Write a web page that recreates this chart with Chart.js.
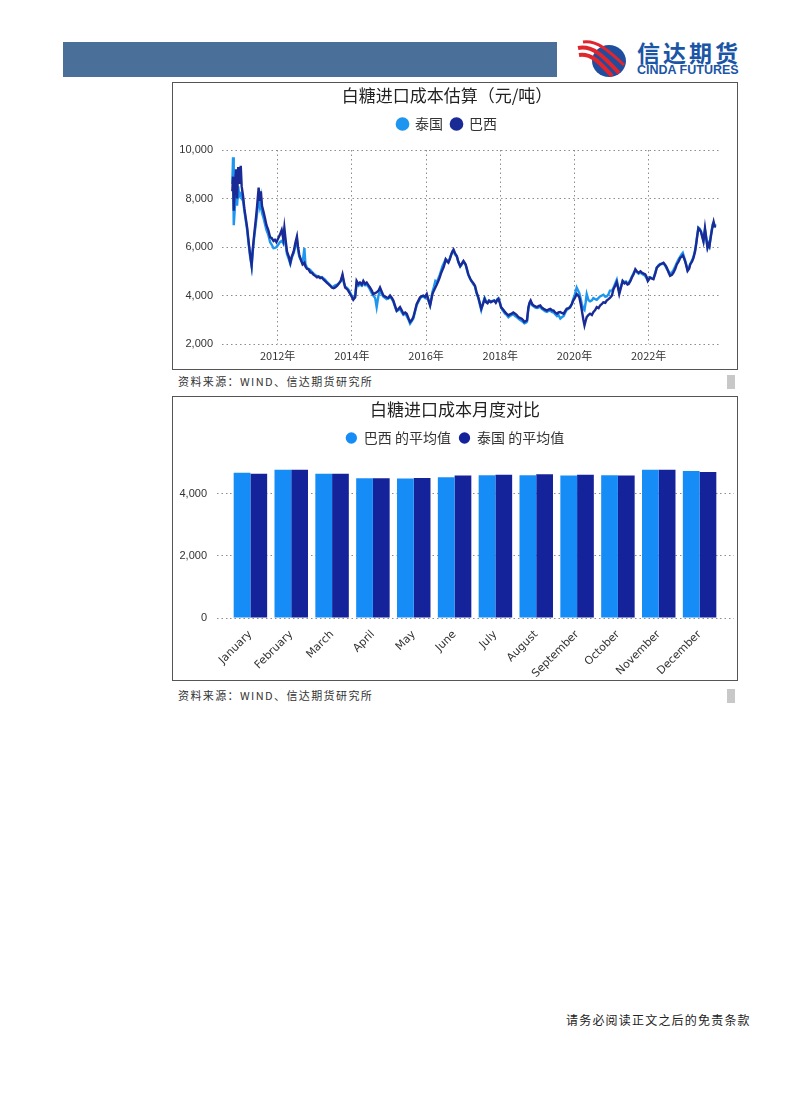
<!DOCTYPE html>
<html lang="zh-CN">
<head>
<meta charset="utf-8">
<title>白糖进口成本</title>
<script src="https://cdn.jsdelivr.net/npm/chart.js@4.4.1/dist/chart.umd.min.js"></script>
<style>
  html, body { margin: 0; padding: 0; background: #fff; }
  body { width: 802px; height: 1114px; position: relative; overflow: hidden; font-family: "Noto Sans CJK SC", sans-serif; }
  .topbar { position: absolute; left: 63px; top: 42px; width: 494px; height: 35px; background: #4a6f98; }
  .emblem { position: absolute; left: 577px; top: 40px; }
  .logo-cn { position: absolute; left: 637px; top: 39px; font-size: 23px; font-weight: 700; color: #1b55a6; letter-spacing: 3px; line-height: 27px; }
  .logo-en { position: absolute; left: 637px; top: 64px; font: 700 12.5px "Liberation Sans", Arial, sans-serif; color: #1b55a6; line-height: 12px; }
  .box { position: absolute; left: 172px; width: 564px; border: 1px solid #555; }
  .box canvas { display: block; }
  #box1 { top: 82px; height: 286px; }
  #box2 { top: 396px; height: 283px; }
  .source { position: absolute; left: 178px; font-size: 11px; color: #333; letter-spacing: 1.4px; line-height: 16px; }
  .mark { position: absolute; left: 727px; width: 8px; height: 14px; background: #c8c8c8; }
  .footer { position: absolute; left: 566px; top: 1012px; font-size: 12px; color: #222; letter-spacing: 1.2px; line-height: 16px; }
</style>
</head>
<body>
<div class="topbar"></div>
<svg class="emblem" width="52" height="40" viewBox="0 0 52 40">
  <ellipse cx="32" cy="21" rx="17" ry="16" fill="#1f4e9f"/>
  <path d="M1 8 C 16 5, 27 17, 42 33" stroke="#e0252c" stroke-width="4" fill="none"/>
  <path d="M2 15 C 15 13, 24 24, 35 36" stroke="#e0252c" stroke-width="4" fill="none"/>
  <path d="M6 2 C 20 0, 32 11, 47 25" stroke="#e0252c" stroke-width="3" fill="none"/>
</svg>
<div class="logo-cn">信达期货</div>
<div class="logo-en">CINDA FUTURES</div>

<div class="box" id="box1"><canvas id="costChart" width="564" height="286"></canvas></div>
<div class="source" style="top:373px">资料来源：WIND、信达期货研究所</div>
<div class="mark" style="top:375px"></div>

<div class="box" id="box2"><canvas id="monthChart" width="564" height="283"></canvas></div>
<div class="source" style="top:687px">资料来源：WIND、信达期货研究所</div>
<div class="mark" style="top:689px"></div>

<div class="footer">请务必阅读正文之后的免责条款</div>

<script>
// 进口成本（元/吨），按日期
const costDates = [
  "2010-10-12","2010-10-19","2010-10-26","2010-11-06","2010-11-17","2010-11-28","2010-12-09","2010-12-20",
  "2011-01-03","2011-01-12","2011-01-26","2011-02-07","2011-02-21","2011-03-07","2011-03-22","2011-04-05","2011-04-20","2011-05-01","2011-05-15","2011-05-30","2011-06-13","2011-06-28","2011-07-09","2011-07-20","2011-07-31","2011-08-15","2011-08-29","2011-09-13","2011-10-01","2011-10-19","2011-11-03","2011-11-21","2011-12-05","2011-12-20",
  "2012-01-08","2012-01-23","2012-02-10","2012-02-25","2012-03-07","2012-03-22","2012-04-02","2012-04-20","2012-05-05","2012-05-19","2012-06-07","2012-06-25","2012-07-09","2012-07-20","2012-08-01","2012-08-19","2012-09-03","2012-09-21","2012-10-01","2012-10-16","2012-10-31","2012-11-18","2012-12-03","2012-12-21",
  "2013-01-05","2013-01-23","2013-02-06","2013-02-24","2013-03-11","2013-03-29","2013-04-13","2013-05-01","2013-05-16","2013-06-03","2013-06-18","2013-07-06","2013-07-20","2013-08-08","2013-08-23","2013-09-13","2013-10-01","2013-10-16","2013-10-27","2013-11-18","2013-12-06","2013-12-24",
  "2014-01-15","2014-02-03","2014-02-17","2014-03-07","2014-03-22","2014-04-09","2014-04-24","2014-05-12","2014-05-27","2014-06-14","2014-06-28","2014-07-16","2014-07-31","2014-08-18","2014-09-02","2014-09-20","2014-10-05","2014-10-23","2014-11-07","2014-11-25","2014-12-09","2014-12-27",
  "2015-01-12","2015-01-30","2015-02-13","2015-03-04","2015-03-18","2015-04-05","2015-04-20","2015-05-08","2015-05-23","2015-06-10","2015-06-25","2015-07-13","2015-07-28","2015-08-15","2015-08-29","2015-09-16","2015-10-01","2015-10-19","2015-11-03","2015-11-21","2015-12-05","2015-12-23",
  "2016-01-08","2016-01-26","2016-02-10","2016-02-21","2016-03-04","2016-03-18","2016-04-02","2016-04-16","2016-05-01","2016-05-15","2016-05-30","2016-06-10","2016-06-21","2016-07-02","2016-07-13","2016-07-27","2016-08-08","2016-08-23","2016-09-06","2016-09-17","2016-09-28","2016-10-12","2016-10-31","2016-11-14","2016-12-03","2016-12-17",
  "2017-01-04","2017-01-15","2017-01-26","2017-02-10","2017-02-21","2017-03-11","2017-03-25","2017-04-13","2017-04-27","2017-05-12","2017-05-30","2017-06-13","2017-06-28","2017-07-16","2017-07-31","2017-08-15","2017-08-29","2017-09-13","2017-10-01","2017-10-16","2017-11-03","2017-11-18","2017-12-03","2017-12-14","2017-12-28",
  "2018-01-08","2018-01-23","2018-02-06","2018-02-17","2018-03-04","2018-03-22","2018-04-06","2018-04-24","2018-05-09","2018-05-27","2018-06-10","2018-06-28","2018-07-13","2018-07-31","2018-08-15","2018-08-26","2018-09-10","2018-09-21","2018-10-05","2018-10-16","2018-10-27","2018-11-11","2018-11-25","2018-12-13","2018-12-28",
  "2019-01-12","2019-01-30","2019-02-14","2019-03-04","2019-03-18","2019-04-05","2019-04-20","2019-05-08","2019-05-23","2019-06-10","2019-06-25","2019-07-13","2019-07-27","2019-08-15","2019-08-29","2019-09-16","2019-10-01","2019-10-16","2019-11-03","2019-11-18","2019-12-06","2019-12-20",
  "2020-01-05","2020-01-23","2020-02-07","2020-02-18","2020-03-03","2020-03-14","2020-03-29","2020-04-09","2020-04-20","2020-05-01","2020-05-19","2020-06-03","2020-06-21","2020-07-05","2020-07-23","2020-08-08","2020-08-26","2020-09-10","2020-09-28","2020-10-12","2020-10-31","2020-11-14","2020-12-02","2020-12-16",
  "2021-01-05","2021-01-19","2021-02-06","2021-02-21","2021-03-07","2021-03-18","2021-04-05","2021-04-20","2021-05-08","2021-05-23","2021-06-07","2021-06-18","2021-07-06","2021-07-20","2021-08-08","2021-08-23","2021-09-10","2021-09-24","2021-10-12","2021-10-27","2021-11-14","2021-11-29","2021-12-13","2021-12-24",
  "2022-01-15","2022-01-30","2022-02-17","2022-03-07","2022-03-22","2022-04-09","2022-04-24","2022-05-12","2022-05-27","2022-06-14","2022-06-28","2022-07-16","2022-07-31","2022-08-18","2022-09-02","2022-09-20","2022-10-05","2022-10-23","2022-11-07","2022-11-22","2022-12-03","2022-12-14","2022-12-25",
  "2023-01-08","2023-01-19","2023-02-03","2023-02-14","2023-03-04","2023-03-18","2023-04-02","2023-04-13","2023-04-24","2023-05-05","2023-05-19","2023-05-30","2023-06-13","2023-06-24","2023-07-09","2023-07-23","2023-08-03","2023-08-14","2023-08-22","2023-09-02","2023-09-13","2023-09-24","2023-10-02","2023-10-12","2023-10-27"
];

const brazilCost = [
  8300,8900,7500,8400,9200,8000,9300,8600,
  9350,8500,8100,7600,7200,6800,6200,5700,5250,5900,6500,7100,7700,8450,7900,8300,7700,7450,7200,6900,6700,6400,6370,6250,6300,6200,
  6370,6500,6700,6350,6800,6200,5820,5600,5350,5600,5820,6200,6430,6000,5690,5450,5280,5350,5200,5100,5080,4950,4940,4850,
  4810,4750,4780,4720,4740,4650,4600,4520,4470,4400,4330,4300,4330,4400,4470,4600,4870,4550,4330,4250,4130,4000,
  3820,3925,4600,4470,4535,4450,4600,4480,4535,4420,4330,4200,4060,4100,4130,4200,4330,4150,4000,3950,3925,3900,
  4000,3900,3790,3550,3380,3450,3520,3380,3250,3300,3250,3050,2910,3000,3110,3400,3650,3800,3925,3980,4000,3950,
  4060,3800,3590,3800,4060,4200,4330,4450,4600,4750,4940,5050,5150,5300,5485,5400,5350,5500,5690,5800,5890,5750,5620,5400,5210,5300,
  5420,5350,5280,5050,4870,4700,4600,4500,4400,4150,3925,3700,3450,3650,3860,3720,3680,3780,3720,3760,3790,3700,3820,3860,3700,
  3520,3450,3380,3315,3250,3180,3220,3250,3300,3250,3200,3110,3080,3045,2980,2910,2950,2980,3520,3700,3790,3650,3590,3550,3520,
  3560,3590,3500,3450,3420,3380,3420,3450,3400,3380,3300,3250,3300,3315,3280,3250,3350,3450,3480,3520,3650,3790,
  3900,4060,4000,3925,3650,3380,3000,2770,2950,3110,3200,3250,3200,3315,3400,3520,3480,3590,3650,3720,3700,3790,3850,3900,
  4000,4250,4400,4550,4300,4060,4350,4600,4500,4535,4450,4470,4600,4740,4900,5080,4980,4940,5000,4940,4900,4870,4750,4600,
  4740,4700,4670,4900,5150,5220,5280,5320,5350,5250,5150,4950,4810,4850,4940,5100,5280,5400,5550,5600,5650,5550,5420,
  5200,5010,5100,5280,5400,5550,5800,6100,6450,6770,6700,6640,6400,6230,6770,6300,5960,6100,6030,6350,6640,6900,7040,6850,6840
];

const thaiCost = [
  8600,9700,6900,7600,8300,7700,8500,8100,
  8200,8000,7900,7500,7100,6700,6100,5600,5200,5800,6400,6900,7400,8000,7700,8000,7400,7200,6950,6700,6500,6200,6100,5950,5960,6000,
  6100,6200,6250,6150,6500,6050,5700,5500,5300,5550,5750,6050,6300,5900,5600,5450,5350,5960,5300,5150,5100,5050,4980,4900,
  4850,4800,4800,4750,4760,4700,4650,4560,4500,4420,4350,4380,4420,4450,4500,4580,4800,4500,4380,4300,4200,4050,
  3900,4000,4500,4400,4450,4400,4500,4420,4450,4350,4250,4100,4000,3900,3520,4000,4200,4050,3950,3900,3850,3880,
  3950,3850,3750,3500,3350,3400,3450,3300,3200,3250,3150,3000,2840,2950,3050,3350,3600,3750,3880,3950,3960,3900,
  4000,3780,3600,3850,4150,4350,4600,4550,4700,4850,5050,5200,5300,5400,5500,5450,5400,5550,5700,5820,5850,5700,5600,5380,5200,5280,
  5400,5330,5250,5000,4850,4680,4580,4450,4380,4100,3900,3650,3400,3700,3900,3750,3720,3800,3740,3780,3800,3720,3840,3880,3720,
  3550,3400,3320,3250,3200,3100,3150,3200,3230,3150,3120,3050,3000,2950,2900,2850,2880,2920,3450,3650,3750,3600,3550,3500,3480,
  3500,3540,3450,3400,3350,3320,3360,3380,3320,3300,3230,3150,3200,3050,3100,3150,3280,3400,3450,3500,3650,3850,
  4050,4330,4200,4100,3850,3650,3450,3400,3700,4060,3800,3760,3800,3890,3850,3825,3900,3960,4000,4030,3950,3960,4050,4200,
  4200,4300,4500,4650,4350,4150,4400,4600,4550,4580,4500,4520,4650,4780,4950,5050,4950,4900,4950,4900,4850,4800,4700,4620,
  4750,4720,4700,4950,5150,5250,5300,5300,5330,5230,5100,5000,4900,4950,5050,5200,5350,5500,5600,5700,5760,5600,5450,
  5250,5050,5150,5300,5450,5600,5850,6150,6500,6800,6750,6650,6450,6250,6700,6350,6000,6150,6050,6400,6700,6950,7000,6900,6880
];

const yearTicks = [2012, 2014, 2016, 2018, 2020, 2022];
const costTicks = [2000, 4000, 6000, 8000, 10000];

// 月度平均
const months = ["January", "February", "March", "April", "May", "June", "July", "August", "September", "October", "November", "December"];
const brazilAvg = [4674, 4768, 4642, 4495, 4484, 4526, 4590, 4590, 4579, 4590, 4768, 4726];
const thaiAvg = [4642, 4768, 4642, 4495, 4505, 4579, 4610, 4621, 4610, 4579, 4768, 4695];
const avgTicks = [0, 2000, 4000];

const LIGHT = "#1e96f0";
const DARK = "#1a2b96";
const BAR_LIGHT = "#168cf7";
const BAR_DARK = "#15239a";
const GRID = "#8c8c8c";
const DOTS = [1.5, 3];

Chart.defaults.font.family = '"Noto Sans CJK SC", sans-serif';
Chart.defaults.color = "#333";

const toYear = (s) => {
  const [y, m, d] = s.split("-").map(Number);
  const t0 = Date.UTC(y, 0, 1);
  return y + (Date.UTC(y, m - 1, d) - t0) / (Date.UTC(y + 1, 0, 1) - t0);
};

// extra room under the legend
const legendGap = (extra) => ({
  id: "legendGap",
  beforeInit(chart) {
    const fit = chart.legend.fit;
    chart.legend.fit = function () {
      fit.call(this);
      this.height += extra;
    };
  }
});

const titleOpts = (text) => ({
  display: true,
  text,
  color: "#222",
  font: { size: 17, weight: "normal", lineHeight: 1.2 },
  padding: { top: 2, bottom: 3.6 }
});

const legendLabels = {
  usePointStyle: true,
  pointStyle: "circle",
  boxWidth: 11,
  boxHeight: 8,
  padding: 8,
  color: "#333",
  font: { size: 14 }
};

const numFont = { family: '"Liberation Sans", sans-serif', size: 11 };
const fmt = (v) => Number(v).toLocaleString("en-US");

new Chart(document.getElementById("costChart"), {
  type: "line",
  data: {
    datasets: [
      {
        label: "巴西",
        data: costDates.map((d, i) => ({ x: toYear(d), y: brazilCost[i] })),
        borderColor: DARK,
        backgroundColor: DARK,
        borderWidth: 2.4,
        pointRadius: 0,
        tension: 0
      },
      {
        label: "泰国",
        data: costDates.map((d, i) => ({ x: toYear(d), y: thaiCost[i] })),
        borderColor: LIGHT,
        backgroundColor: LIGHT,
        borderWidth: 2.4,
        pointRadius: 0,
        tension: 0
      }
    ]
  },
  options: {
    responsive: false,
    animation: false,
    layout: { padding: { left: 0, right: 16, top: 0, bottom: 0 } },
    plugins: {
      title: titleOpts("白糖进口成本估算（元/吨）"),
      legend: { reverse: true, labels: legendLabels },
      tooltip: { enabled: false }
    },
    scales: {
      x: {
        type: "linear",
        min: 2010.5,
        max: 2023.95,
        afterBuildTicks: (s) => { s.ticks = yearTicks.map((v) => ({ value: v })); },
        afterFit: (s) => { s.height = 25; },
        ticks: { padding: 5, font: { size: 11 }, color: "#333", callback: (v) => v + "年" },
        grid: { color: GRID, drawTicks: false },
        border: { display: false, dash: DOTS }
      },
      y: {
        min: 2000,
        max: 10000,
        afterBuildTicks: (s) => { s.ticks = costTicks.map((v) => ({ value: v })); },
        afterFit: (s) => { s.width = 49; },
        ticks: { padding: 9, font: numFont, color: "#333", callback: fmt },
        grid: { color: GRID, drawTicks: false },
        border: { display: false, dash: DOTS }
      }
    }
  },
  plugins: [legendGap(9)]
});

new Chart(document.getElementById("monthChart"), {
  type: "bar",
  data: {
    labels: months,
    datasets: [
      { label: "巴西 的平均值", data: brazilAvg, backgroundColor: BAR_LIGHT, borderWidth: 0 },
      { label: "泰国 的平均值", data: thaiAvg, backgroundColor: BAR_DARK, borderWidth: 0 }
    ]
  },
  options: {
    responsive: false,
    animation: false,
    datasets: { bar: { categoryPercentage: 0.82, barPercentage: 1 } },
    layout: { padding: 0 },
    plugins: {
      title: titleOpts("白糖进口成本月度对比"),
      legend: { labels: legendLabels },
      tooltip: { enabled: false }
    },
    scales: {
      x: {
        afterFit: (s) => { s.height = 62; },
        ticks: { minRotation: 45, maxRotation: 45, autoSkip: false, padding: 2, color: "#333", font: { family: '"DejaVu Sans", sans-serif', size: 11 } },
        grid: { display: false },
        border: { display: false }
      },
      y: {
        min: 0,
        max: 5000,
        afterBuildTicks: (s) => { s.ticks = avgTicks.map((v) => ({ value: v })); },
        afterFit: (s) => { s.width = 57; },
        ticks: { padding: 10, font: numFont, color: "#333", callback: fmt },
        grid: { color: GRID, drawTicks: true, tickLength: 13, tickColor: GRID, tickBorderDash: DOTS },
        border: { display: false, dash: DOTS }
      },
      yr: {
        position: "right",
        min: 0,
        max: 5000,
        afterBuildTicks: (s) => { s.ticks = avgTicks.map((v) => ({ value: v })); },
        afterFit: (s) => { s.width = 17; },
        ticks: { display: false },
        grid: { drawOnChartArea: false, drawTicks: true, tickLength: 14, tickColor: GRID, tickBorderDash: DOTS },
        border: { display: false }
      }
    }
  },
  plugins: [legendGap(7.5)]
});
</script>
</body>
</html>
